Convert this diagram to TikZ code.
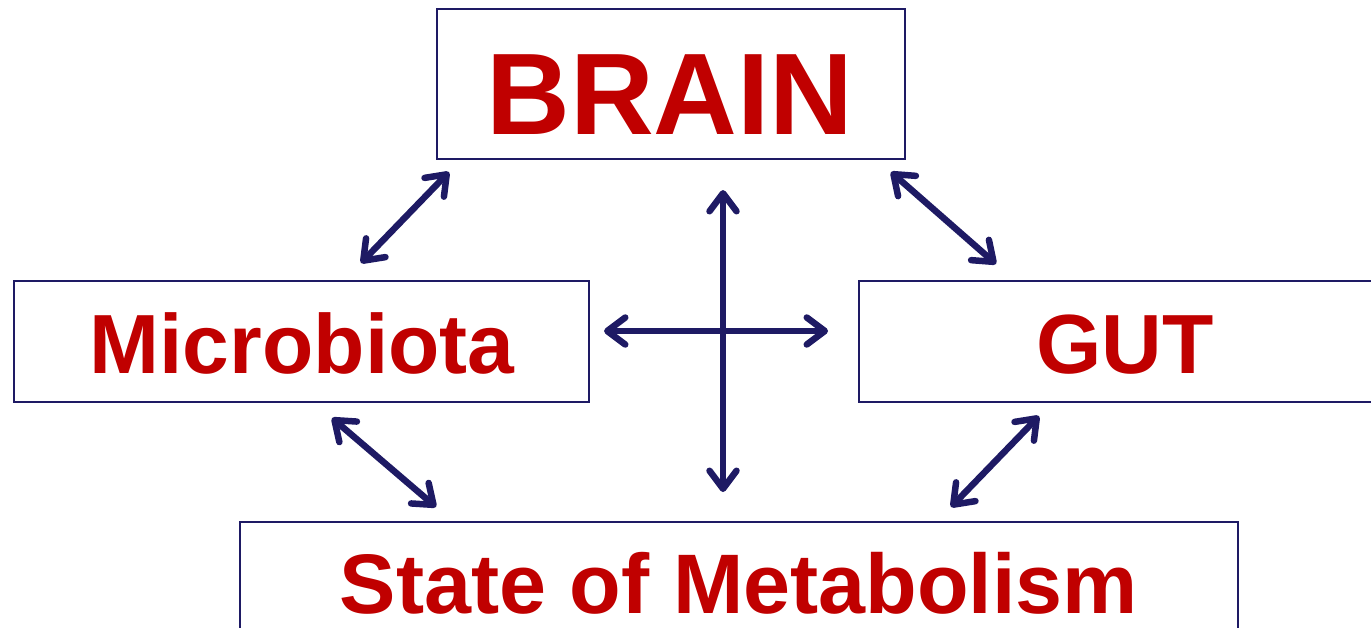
\documentclass[tikz,border=0pt]{standalone}
\usepackage{fontspec}
\setmainfont{Liberation Sans}
\usetikzlibrary{arrows.meta}
\definecolor{navy}{RGB}{30,26,100}
\definecolor{tred}{RGB}{192,0,0}
\tikzset{
  box/.style={draw=navy, line width=2.2pt, fill=none},
  lbl/.style={text=tred, font=\bfseries, anchor=base, inner sep=0pt},
  dbl/.style={draw=navy, line width=6.5pt, line cap=round, {Straight Barb[length=18pt,width=27pt,line cap=round,line join=round]}-{Straight Barb[length=18pt,width=27pt,line cap=round,line join=round]}},
}
\begin{document}
\begin{tikzpicture}[x=1pt,y=-1pt]
\useasboundingbox (0,0) rectangle (1371,627);
\clip (0,0) rectangle (1371,627);
\draw[box] (437,9) rectangle (905,159) node[pos=0.5, inner sep=0] (brain) {};
\draw[box] (14,281) rectangle (589,402) node[pos=0.5, inner sep=0] (micro) {};
\draw[box] (859,281) rectangle (1390,402) node[pos=0.5, inner sep=0] (gut) {};
\draw[box] (240,522) rectangle (1238,650) node[pos=0.5, inner sep=0] (state) {};
\node[lbl, font=\bfseries\fontsize{116}{118}\selectfont] (tbrain) at (670,134) {BRAIN};
\node[lbl, font=\bfseries\fontsize{84}{86}\selectfont] (tmicro) at (302,373) {Microbiota};
\node[lbl, font=\bfseries\fontsize{84}{86}\selectfont] (tgut) at (1125,373) {GUT};
\node[lbl, font=\bfseries\fontsize{84.5}{86}\selectfont] (tstate) at (739,613) {State of Metabolism};
\coordinate (a1) at (449,172); \coordinate (a2) at (361,263);
\coordinate (b1) at (891,172); \coordinate (b2) at (996,264);
\coordinate (v1) at (723,190); \coordinate (v2) at (723,492);
\coordinate (h1) at (604,331); \coordinate (h2) at (828,331);
\coordinate (c1) at (332,418); \coordinate (c2) at (436,507);
\coordinate (d1) at (1039,416); \coordinate (d2) at (951,507);
\draw[dbl] (a1) -- (a2);
\draw[dbl] (b1) -- (b2);
\draw[dbl] (v1) -- (v2);
\draw[dbl] (h1) -- (h2);
\draw[dbl] (c1) -- (c2);
\draw[dbl] (d1) -- (d2);
\end{tikzpicture}
\end{document}
